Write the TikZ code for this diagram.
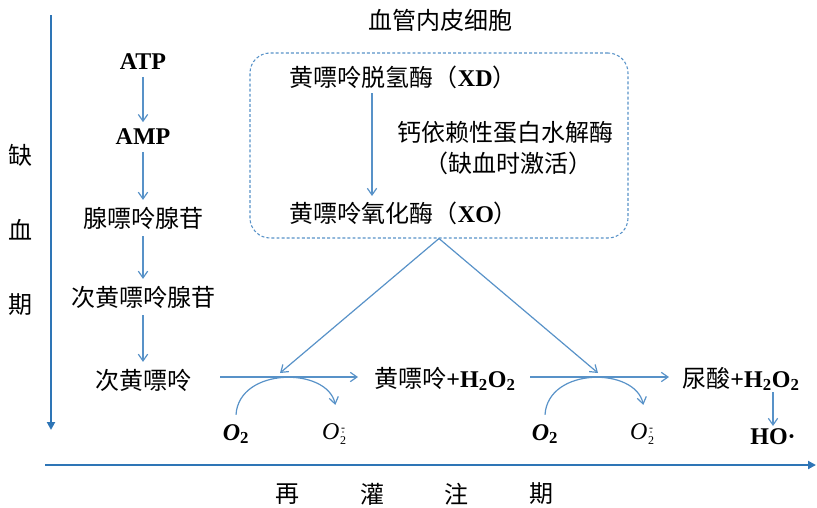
\documentclass[tikz,border=0pt]{standalone}
\usepackage{fontspec}
\setmainfont{Liberation Serif}
\newfontfamily\cjk{Noto Sans CJK SC}
\usetikzlibrary{arrows.meta}
\definecolor{axisblue}{RGB}{46,117,182}
\definecolor{arrblue}{RGB}{88,146,200}
\newcommand{\suprad}{\textit{O}\hspace{0.5pt}{\fontsize{9}{9}\selectfont\rlap{\makebox[0.5em][c]{\raisebox{-0.8ex}{2}}}\rlap{\makebox[0.5em][c]{\raisebox{0.55ex}{·}}}\makebox[0.5em][c]{\raisebox{1.5ex}{-}}}}
\tikzset{
  lbl/.style={inner sep=2pt, font=\fontsize{18}{21}\selectfont},
  arr/.style={draw=arrblue, line width=0.9pt, -{Straight Barb[length=5pt,width=7pt]}},
  axis/.style={draw=axisblue, line width=2pt, -{Triangle[length=6pt,width=6pt]}},
  ebox/.style={draw=arrblue, line width=0.8pt, dash pattern=on 2.2pt off 1.6pt, rounded corners=15pt,
    minimum width=283.5pt, minimum height=138.75pt, inner sep=0pt}
}
\begin{document}
\begin{tikzpicture}[x=0.75pt,y=-0.75pt]
\useasboundingbox (0,0) rectangle (817,507);
% axes
\coordinate (vtop) at (51,15);
\coordinate (vbot) at (51,430);
\draw[axis] (vtop) -- (vbot);
\coordinate (hl) at (45,465);
\coordinate (hr) at (816,465);
\draw[axis] (hl) -- (hr);
\node[lbl] (q1) at (20,155) {\cjk 缺};
\node[lbl] (q2) at (20,230) {\cjk 血};
\node[lbl] (q3) at (20,305) {\cjk 期};
\node[lbl] (r1) at (287,494) {\cjk 再};
\node[lbl] (r2) at (372,494) {\cjk 灌};
\node[lbl] (r3) at (456,494) {\cjk 注};
\node[lbl] (r4) at (541,494) {\cjk 期};
% left column
\node[lbl] (atp) at (143,62) {\textbf{ATP}};
\node[lbl] (amp) at (143,137) {\textbf{AMP}};
\node[lbl] (ado) at (143,218) {\cjk 腺嘌呤腺苷};
\node[lbl] (ino) at (143,297) {\cjk 次黄嘌呤腺苷};
\node[lbl] (hx) at (143,380) {\cjk 次黄嘌呤};
\draw[arr, shorten <=3pt, shorten >=3pt] (atp) -- (amp);
\draw[arr, shorten <=3pt, shorten >=3pt] (amp) -- (ado);
\draw[arr, shorten <=3pt, shorten >=3pt] (ado) -- (ino);
\draw[arr, shorten <=3pt, shorten >=3pt] (ino) -- (hx);
% endothelial box
\node[lbl] (title) at (440,20) {\cjk 血管内皮细胞};
\node[ebox] (box) at (439,145.5) {};
\node[lbl, anchor=west] (xd) at (287,77) {{\cjk 黄嘌呤脱氢酶（}\textbf{XD}{\cjk ）}};
\node[lbl, anchor=west] (xo) at (287,213) {{\cjk 黄嘌呤氧化酶（}\textbf{XO}{\cjk ）}};
\coordinate (xdb) at (372,93);
\coordinate (xot) at (372,196);
\draw[arr] (xdb) -- (xot);
\node[lbl] (cal) at (505,132) {\cjk 钙依赖性蛋白水解酶};
\node[lbl] (act) at (508,163) {\cjk （缺血时激活）};
% products
\node[lbl] (xan) at (445,379) {{\cjk 黄嘌呤}\textbf{+H\textsubscript{2}O\textsubscript{2}}};
\node[lbl] (uric) at (741,379) {{\cjk 尿酸}\textbf{+H\textsubscript{2}O\textsubscript{2}}};
\node[lbl] (ho) at (773,437) {\textbf{HO·}};
\coordinate (h1s) at (220,377);
\coordinate (h1e) at (358,377);
\coordinate (h2s) at (530,377);
\coordinate (h2e) at (669,377);
\draw[arr] (h1s) -- (h1e);
\draw[arr] (h2s) -- (h2e);
\coordinate (hot) at (773,392);
\draw[arr] (hot) -- (ho.north);
% V from XO
\coordinate (v1) at (280,373);
\coordinate (v2) at (598,373);
\draw[arr] (box.south) -- (v1);
\draw[arr] (box.south) -- (v2);
% oxygen
\node[lbl] (o2a) at (236,434) {\textbf{\textit{O}\textsubscript{2}}};
\node[lbl] (o2b) at (334,434) {\suprad};
\node[lbl] (o2c) at (545,434) {\textbf{\textit{O}\textsubscript{2}}};
\node[lbl] (o2d) at (642,434) {\suprad};
\draw[arr] ([yshift=5pt]o2a.north) .. controls +(3,-48) and +(-8,-38) .. ([xshift=1pt,yshift=12pt]o2b.north);
\draw[arr] ([yshift=5pt]o2c.north) .. controls +(3,-48) and +(-8,-38) .. ([xshift=1pt,yshift=12pt]o2d.north);
\end{tikzpicture}
\end{document}
